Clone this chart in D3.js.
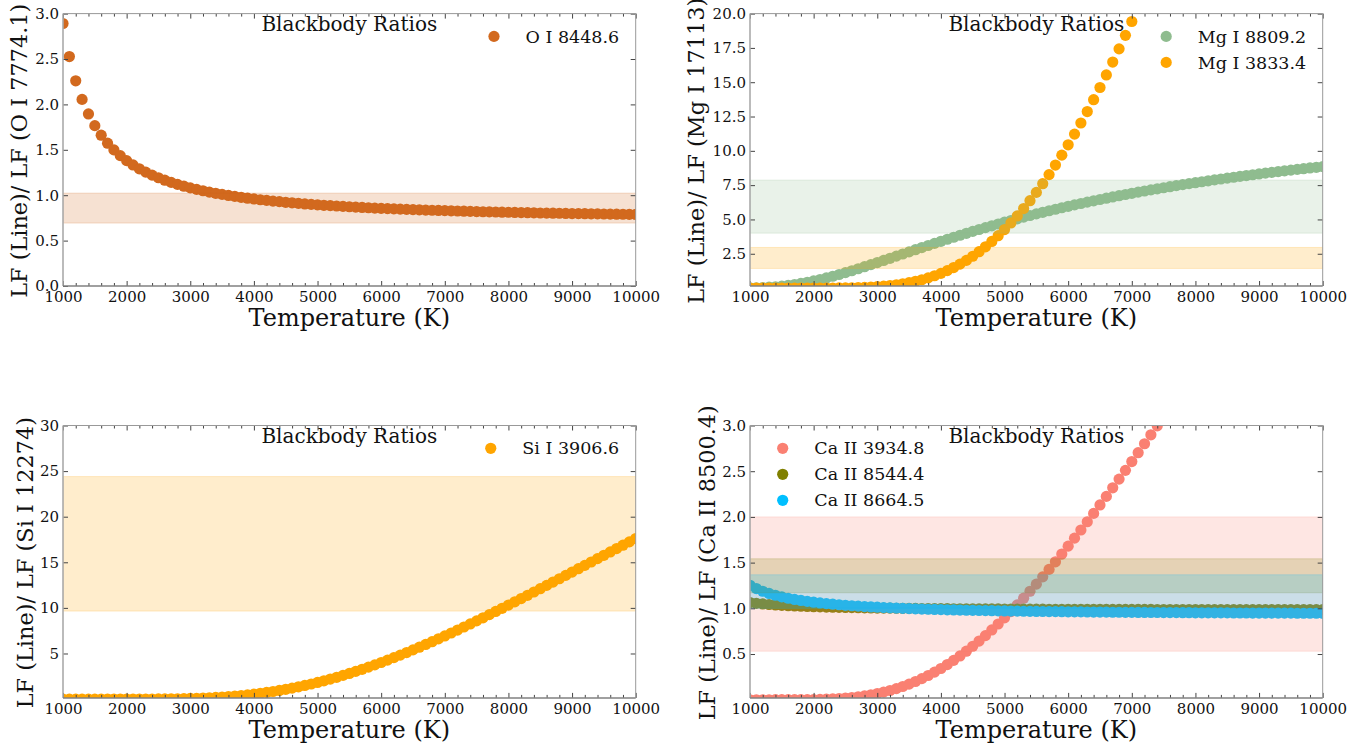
<!DOCTYPE html>
<html>
<head>
<meta charset="utf-8">
<script src="https://cdn.jsdelivr.net/npm/d3@7"></script>
<style>
  body { margin: 0; background: #fff; }
  svg text { font-family: "DejaVu Serif", serif; }
</style>
</head>
<body>
<svg id="chart" width="1369" height="749"></svg>
<script>
// Temperature grid (K)
const TEMPS = [
  1000, 1100, 1200, 1300, 1400, 1500, 1600, 1700, 1800, 1900,
  2000, 2100, 2200, 2300, 2400, 2500, 2600, 2700, 2800, 2900,
  3000, 3100, 3200, 3300, 3400, 3500, 3600, 3700, 3800, 3900,
  4000, 4100, 4200, 4300, 4400, 4500, 4600, 4700, 4800, 4900,
  5000, 5100, 5200, 5300, 5400, 5500, 5600, 5700, 5800, 5900,
  6000, 6100, 6200, 6300, 6400, 6500, 6600, 6700, 6800, 6900,
  7000, 7100, 7200, 7300, 7400, 7500, 7600, 7700, 7800, 7900,
  8000, 8100, 8200, 8300, 8400, 8500, 8600, 8700, 8800, 8900,
  9000, 9100, 9200, 9300, 9400, 9500, 9600, 9700, 9800, 9900,
  10000,
];

// O I 8448.6 / O I 7774.1
const O_8448 = [
  2.891, 2.527, 2.260, 2.055, 1.895, 1.766, 1.661, 1.573, 1.499, 1.436,
  1.381, 1.333, 1.291, 1.254, 1.221, 1.192, 1.165, 1.141, 1.119, 1.099,
  1.081, 1.064, 1.049, 1.034, 1.021, 1.009, 0.997, 0.987, 0.977, 0.967,
  0.959, 0.950, 0.943, 0.935, 0.929, 0.922, 0.916, 0.910, 0.904, 0.899,
  0.894, 0.889, 0.885, 0.881, 0.877, 0.873, 0.869, 0.865, 0.862, 0.858,
  0.855, 0.852, 0.849, 0.847, 0.844, 0.841, 0.839, 0.836, 0.834, 0.832,
  0.830, 0.828, 0.826, 0.824, 0.822, 0.820, 0.818, 0.816, 0.815, 0.813,
  0.812, 0.810, 0.809, 0.807, 0.806, 0.804, 0.803, 0.802, 0.801, 0.799,
  0.798, 0.797, 0.796, 0.795, 0.794, 0.793, 0.792, 0.791, 0.790, 0.789,
  0.788,
];

// Mg I 8809.2 / Mg I 17113
const MG_8809 = [
  0.010, 0.021, 0.037, 0.062, 0.096, 0.140, 0.194, 0.260, 0.336, 0.422,
  0.518, 0.624, 0.738, 0.860, 0.989, 1.123, 1.263, 1.408, 1.555, 1.706,
  1.859, 2.014, 2.170, 2.326, 2.483, 2.639, 2.795, 2.950, 3.103, 3.255,
  3.406, 3.555, 3.702, 3.847, 3.989, 4.130, 4.268, 4.404, 4.538, 4.669,
  4.798, 4.924, 5.048, 5.170, 5.289, 5.406, 5.521, 5.633, 5.743, 5.851,
  5.957, 6.061, 6.162, 6.262, 6.359, 6.455, 6.548, 6.640, 6.730, 6.818,
  6.904, 6.989, 7.072, 7.153, 7.232, 7.310, 7.387, 7.462, 7.536, 7.608,
  7.679, 7.748, 7.816, 7.883, 7.948, 8.013, 8.076, 8.138, 8.199, 8.258,
  8.317, 8.375, 8.431, 8.487, 8.542, 8.595, 8.648, 8.700, 8.751, 8.801,
  8.850,
];

// Mg I 3833.4 / Mg I 17113
const MG_3833 = [
  0, 0, 0, 0, 0, 0.00001, 0.00002, 0.00006, 0.00017, 0.0004,
  0.0008, 0.0017, 0.0032, 0.0056, 0.0095, 0.0149, 0.0232, 0.0350, 0.0512, 0.0728,
  0.1012, 0.1376, 0.1834, 0.2401, 0.3092, 0.3922, 0.4908, 0.6065, 0.7408, 0.8953,
  1.0713, 1.2701, 1.4931, 1.7414, 2.0161, 2.3180, 2.6481, 3.0072, 3.3957, 3.8143,
  4.2632, 4.7429, 5.2533, 5.7947, 6.3669, 6.9700, 7.6037, 8.2676, 8.9615, 9.6850,
  10.4375, 11.2186, 12.0275, 12.8637, 13.7269, 14.6156, 15.5297, 16.4684, 17.4306, 18.4158,
  19.4232, 20.452, 21.501, 22.570, 23.657, 24.763, 25.885, 27.025, 28.180, 29.349,
  30.533, 31.730, 32.939, 34.161, 35.393, 36.636, 37.889, 39.150, 40.420, 41.698,
  42.982, 44.273, 45.570, 46.872, 48.180, 49.491, 50.807, 52.125, 53.447, 54.771,
  56.097,
];

// Si I 3906.6 / Si I 12274
const SI_3906 = [
  0, 0, 0, 0.000001, 0.000005, 0.00002, 0.00005, 0.0001, 0.0003, 0.0006,
  0.0011, 0.0020, 0.0034, 0.0055, 0.0087, 0.0132, 0.0194, 0.0277, 0.0385, 0.0523,
  0.0696, 0.0909, 0.1167, 0.1476, 0.1840, 0.2265, 0.2754, 0.3313, 0.3946, 0.4656,
  0.5447, 0.6322, 0.7283, 0.8333, 0.9474, 1.0706, 1.2031, 1.3450, 1.4961, 1.6567,
  1.8266, 2.0058, 2.1940, 2.3913, 2.5975, 2.8124, 3.0358, 3.2675, 3.5073, 3.7550,
  4.0103, 4.2730, 4.5427, 4.8193, 5.1024, 5.3920, 5.6875, 5.9887, 6.2956, 6.6074,
  6.9244, 7.2461, 7.5722, 7.9023, 8.2364, 8.5742, 8.9155, 9.2597, 9.6071, 9.9572,
  10.3097, 10.6644, 11.0215, 11.3801, 11.7409, 12.1028, 12.4661, 12.8307, 13.1960, 13.5622,
  13.9292, 14.2969, 14.6648, 15.0328, 15.4008, 15.7693, 16.1373, 16.5054, 16.8726, 17.2398,
  17.6062,
];

// Ca II lines / Ca II 8500.4
const CA_3934 = [
  0, 0, 0, 0.00001, 0.00004, 0.0001, 0.0002, 0.0005, 0.0009, 0.0015,
  0.0026, 0.0041, 0.0062, 0.0092, 0.0131, 0.0182, 0.0246, 0.0326, 0.0422, 0.0537,
  0.0673, 0.0831, 0.1012, 0.1217, 0.1449, 0.1707, 0.1992, 0.2306, 0.2649, 0.3020,
  0.3419, 0.3848, 0.4306, 0.4792, 0.5307, 0.5849, 0.6419, 0.7015, 0.7637, 0.8284,
  0.8955, 0.9649, 1.0367, 1.1105, 1.1865, 1.2644, 1.3442, 1.4258, 1.5091, 1.5939,
  1.6802, 1.7679, 1.8570, 1.9472, 2.0386, 2.1310, 2.2244, 2.3186, 2.4136, 2.5094,
  2.6058, 2.7028, 2.8003, 2.8982, 2.9964, 3.0950, 3.1938, 3.2930, 3.3919, 3.4913,
  3.5906, 3.6899, 3.7892, 3.8884, 3.9874, 4.0863, 4.1849, 4.2834, 4.3815, 4.4794,
  4.5770, 4.6742, 4.7710, 4.8673, 4.9633, 5.0589, 5.1539, 5.2484, 5.3427, 5.4364,
  5.5294,
];

const CA_8544 = [
  1.063, 1.055, 1.048, 1.042, 1.037, 1.033, 1.029, 1.026, 1.023, 1.020,
  1.018, 1.016, 1.014, 1.012, 1.011, 1.009, 1.008, 1.007, 1.005, 1.004,
  1.003, 1.002, 1.002, 1.001, 1.000, 0.999, 0.999, 0.998, 0.997, 0.997,
  0.996, 0.996, 0.995, 0.995, 0.994, 0.994, 0.994, 0.993, 0.993, 0.993,
  0.992, 0.992, 0.992, 0.991, 0.991, 0.991, 0.991, 0.990, 0.990, 0.990,
  0.990, 0.990, 0.989, 0.989, 0.989, 0.989, 0.989, 0.988, 0.988, 0.988,
  0.988, 0.988, 0.988, 0.988, 0.987, 0.987, 0.987, 0.987, 0.987, 0.987,
  0.987, 0.987, 0.986, 0.986, 0.986, 0.986, 0.986, 0.986, 0.986, 0.986,
  0.986, 0.986, 0.986, 0.986, 0.985, 0.985, 0.985, 0.985, 0.985, 0.985,
  0.985,
];

const CA_8664 = [
  1.252, 1.216, 1.187, 1.163, 1.143, 1.125, 1.110, 1.097, 1.086, 1.076,
  1.067, 1.059, 1.051, 1.045, 1.039, 1.033, 1.028, 1.024, 1.019, 1.015,
  1.012, 1.008, 1.005, 1.002, 0.999, 0.997, 0.994, 0.992, 0.990, 0.988,
  0.986, 0.984, 0.982, 0.981, 0.979, 0.978, 0.976, 0.975, 0.974, 0.972,
  0.971, 0.970, 0.969, 0.968, 0.967, 0.966, 0.965, 0.964, 0.964, 0.963,
  0.962, 0.961, 0.961, 0.960, 0.959, 0.959, 0.958, 0.957, 0.957, 0.956,
  0.956, 0.955, 0.955, 0.954, 0.954, 0.953, 0.953, 0.953, 0.952, 0.952,
  0.951, 0.951, 0.951, 0.950, 0.950, 0.950, 0.949, 0.949, 0.949, 0.948,
  0.948, 0.948, 0.947, 0.947, 0.947, 0.947, 0.946, 0.946, 0.946, 0.946,
  0.945,
];

// Observed ranges (shaded spans)
const O_8448_RANGE = [0.693, 1.023];
const MG_8809_RANGE = [4.0, 7.87];
const MG_3833_RANGE = [1.43, 2.96];
const SI_3906_RANGE = [9.65, 24.4];
const CA_3934_RANGE = [0.531, 2.0];
const CA_8544_RANGE = [1.17, 1.542];
const CA_8664_RANGE = [1.0, 1.367];

// Axis ticks
const X_TICKS = [1000, 2000, 3000, 4000, 5000, 6000, 7000, 8000, 9000, 10000];
const Y_TICKS_O = [0, 0.5, 1.0, 1.5, 2.0, 2.5, 3.0];
const Y_TICKS_MG = [2.5, 5.0, 7.5, 10.0, 12.5, 15.0, 17.5, 20.0];
const Y_TICKS_SI = [5, 10, 15, 20, 25, 30];
const Y_TICKS_CA = [0.5, 1.0, 1.5, 2.0, 2.5, 3.0];

// Layout
const PANEL_W = 572.7;
const PANEL_H = 272.4;
const DOT_R = 5.6;
const SERIF = '"DejaVu Serif", serif';

const svg = d3.select("#chart");

function drawPanel(p) {
  const g = svg.append("g").attr("transform", `translate(${p.left},${p.top})`);

  const x = d3.scaleLinear().domain([1000, 10000]).range([0, PANEL_W]);
  const y = d3.scaleLinear().domain(p.yDomain).range([PANEL_H, 0]);

  g.append("clipPath")
    .attr("id", `clip-${p.id}`)
    .append("rect")
    .attr("width", PANEL_W)
    .attr("height", PANEL_H);

  const plot = g.append("g").attr("clip-path", `url(#clip-${p.id})`);

  // scatter points
  p.series.forEach((s) => {
    plot
      .append("g")
      .selectAll("circle")
      .data(TEMPS.map((t, i) => ({ t, v: s.values[i] })))
      .join("circle")
      .attr("cx", (d) => x(d.t))
      .attr("cy", (d) => y(d.v))
      .attr("r", DOT_R)
      .attr("fill", s.color);
  });

  // shaded ranges drawn over the points
  p.series.forEach((s) => {
    plot
      .append("rect")
      .attr("x", 0)
      .attr("width", PANEL_W)
      .attr("y", y(s.range[1]))
      .attr("height", y(s.range[0]) - y(s.range[1]))
      .attr("fill", s.color)
      .attr("fill-opacity", 0.2)
      .attr("stroke", s.color)
      .attr("stroke-opacity", 0.2)
      .attr("stroke-width", 1);
  });

  // ticks (inward)
  const minor = d3.range(1000, 10001, 200).filter((t) => t % 1000 !== 0);

  const bottom = g.append("g").attr("transform", `translate(0,${PANEL_H})`);
  bottom.call(
    d3.axisBottom(x).tickValues(minor).tickSize(-3).tickFormat("")
  );
  bottom.append("g").call(
    d3.axisBottom(x).tickValues(X_TICKS).tickSize(-5).tickPadding(5)
      .tickFormat(d3.format("d"))
  );

  const top = g.append("g");
  top.call(d3.axisTop(x).tickValues(minor).tickSize(-3).tickFormat(""));
  top.append("g").call(d3.axisTop(x).tickValues(X_TICKS).tickSize(-5).tickFormat(""));

  g.append("g").call(
    d3.axisLeft(y).tickValues(p.yTicks).tickSize(-5).tickPadding(4)
      .tickFormat(p.yFormat)
  );
  g.append("g")
    .attr("transform", `translate(${PANEL_W},0)`)
    .call(d3.axisRight(y).tickValues(p.yTicks).tickSize(-5).tickFormat(""));

  g.selectAll(".domain").remove();
  g.selectAll(".tick line").attr("stroke", "#444");
  g.selectAll(".tick text")
    .style("font-family", SERIF)
    .style("font-size", "15px")
    .attr("fill", "#111");

  // spines
  g.append("line").attr("x1", 0).attr("x2", PANEL_W).attr("y1", 0).attr("y2", 0)
    .attr("stroke", "#999").attr("stroke-width", 1);
  g.append("line").attr("x1", PANEL_W).attr("x2", PANEL_W).attr("y1", 0).attr("y2", PANEL_H)
    .attr("stroke", "#999").attr("stroke-width", 1);
  g.append("line").attr("x1", 0).attr("x2", 0).attr("y1", 0).attr("y2", PANEL_H)
    .attr("stroke", "#aaa").attr("stroke-width", 1.6);
  g.append("line").attr("x1", 0).attr("x2", PANEL_W).attr("y1", PANEL_H).attr("y2", PANEL_H)
    .attr("stroke", "#808080").attr("stroke-width", 1.5);

  // title
  g.append("text")
    .attr("x", PANEL_W / 2)
    .attr("y", 17.5)
    .attr("text-anchor", "middle")
    .attr("font-size", 20)
    .attr("fill", "#111")
    .text("Blackbody Ratios");

  // axis labels
  g.append("text")
    .attr("x", PANEL_W / 2)
    .attr("y", PANEL_H + 40)
    .attr("text-anchor", "middle")
    .attr("font-size", 24)
    .attr("fill", "#111")
    .text("Temperature (K)");

  g.append("text")
    .attr("transform", `translate(${p.yLabelX},${PANEL_H / 2 + 1}) rotate(-90)`)
    .attr("text-anchor", "middle")
    .attr("font-size", 22.4)
    .attr("fill", "#111")
    .text(p.yLabel);

  // legend
  const leg = g.append("g");
  const labels = leg
    .selectAll("text")
    .data(p.series)
    .join("text")
    .attr("y", (d, i) => 22.8 + i * 26)
    .attr("dy", "0.35em")
    .attr("font-size", 17.5)
    .attr("fill", "#111")
    .text((d) => d.name);

  let textX;
  if (p.legendLeft) {
    textX = 64.3;
  } else {
    const maxW = d3.max(labels.nodes(), (n) => n.getComputedTextLength());
    textX = PANEL_W - 16.5 - maxW;
  }
  labels.attr("x", textX);

  leg
    .selectAll("circle")
    .data(p.series)
    .join("circle")
    .attr("cx", textX - 31.6)
    .attr("cy", (d, i) => 22.8 + i * 26)
    .attr("r", DOT_R)
    .attr("fill", (d) => d.color);
}

drawPanel({
  id: "o",
  left: 63,
  top: 13.6,
  yDomain: [0, 3],
  yTicks: Y_TICKS_O,
  yFormat: d3.format(".1f"),
  yLabel: "LF (Line)/ LF (O I 7774.1)",
  yLabelX: -36.3,
  series: [
    { name: "O I 8448.6", values: O_8448, range: O_8448_RANGE, color: "#d2691e" },
  ],
});

drawPanel({
  id: "mg",
  left: 750,
  top: 13.6,
  yDomain: [0.15, 20],
  yTicks: Y_TICKS_MG,
  yFormat: d3.format(".1f"),
  yLabel: "LF (Line)/ LF (Mg I 17113)",
  yLabelX: -46,
  series: [
    { name: "Mg I 8809.2", values: MG_8809, range: MG_8809_RANGE, color: "#8fbc8f" },
    { name: "Mg I 3833.4", values: MG_3833, range: MG_3833_RANGE, color: "#ffa500" },
  ],
});

drawPanel({
  id: "si",
  left: 63,
  top: 425.5,
  yDomain: [0.13, 30],
  yTicks: Y_TICKS_SI,
  yFormat: d3.format("d"),
  yLabel: "LF (Line)/ LF (Si I 12274)",
  yLabelX: -30,
  series: [
    { name: "Si I 3906.6", values: SI_3906, range: SI_3906_RANGE, color: "#ffa500" },
  ],
});

drawPanel({
  id: "ca",
  left: 750,
  top: 425.5,
  yDomain: [0.02, 3],
  yTicks: Y_TICKS_CA,
  yFormat: d3.format(".1f"),
  yLabel: "LF (Line)/ LF (Ca II 8500.4)",
  yLabelX: -35.5,
  legendLeft: true,
  series: [
    { name: "Ca II 3934.8", values: CA_3934, range: CA_3934_RANGE, color: "#fa8072" },
    { name: "Ca II 8544.4", values: CA_8544, range: CA_8544_RANGE, color: "#808000" },
    { name: "Ca II 8664.5", values: CA_8664, range: CA_8664_RANGE, color: "#00bfff" },
  ],
});
</script>
</body>
</html>
